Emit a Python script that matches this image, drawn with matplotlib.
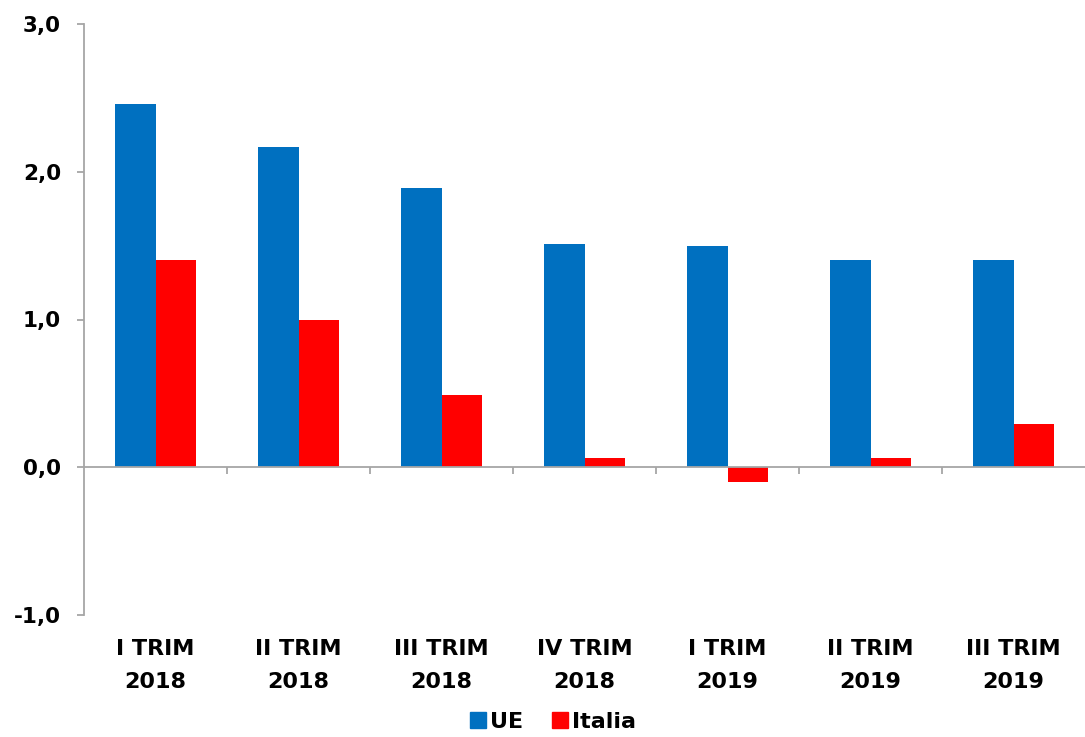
import matplotlib
matplotlib.use("Agg")
import matplotlib.pyplot as plt
import numpy as np
from matplotlib.patches import Patch

categories = ["I TRIM\n2018", "II TRIM\n2018", "III TRIM\n2018", "IV TRIM\n2018",
              "I TRIM\n2019", "II TRIM\n2019", "III TRIM\n2019"]
ue = [2.46, 2.17, 1.89, 1.51, 1.50, 1.40, 1.40]
italia = [1.40, 1.00, 0.49, 0.06, -0.10, 0.06, 0.29]
yticks = [-1.0, 0.0, 1.0, 2.0, 3.0]
ytick_labels = ["-1,0", "0,0", "1,0", "2,0", "3,0"]

plt.rcParams['font.family'] = ['DejaVu Sans']
fig = plt.figure(figsize=(10.85, 7.37), dpi=100)
ax = fig.add_axes([84/1085, 1-615/737, 1-84/1085, (615-24)/737])

x = np.arange(len(categories))
w = 0.285
ax.bar(x - w/2, ue, w, color="#0070C0", label="UE", zorder=2)
ax.bar(x + w/2, italia, w, color="#FF0000", label="Italia", zorder=2)

ax.set_xlim(-0.5, len(categories) - 0.5)
ax.set_ylim(-1.0, 3.0)
ax.set_yticks(yticks)
ax.set_yticklabels(ytick_labels, fontsize=15.5, fontweight='bold')

gray = "#A6A6A6"
for s in ['top', 'right']:
    ax.spines[s].set_visible(False)
ax.spines['left'].set_color(gray)
ax.spines['left'].set_linewidth(1.3)
ax.spines['bottom'].set_position(('data', 0))
ax.spines['bottom'].set_color(gray)
ax.spines['bottom'].set_linewidth(1.3)
ax.spines['bottom'].set_zorder(3)
ax.tick_params(axis='y', direction='out', length=5, color=gray, width=1.3, pad=11.5)
ax.set_xticks(np.arange(0.5, len(categories) - 0.5, 1.0))
ax.set_xticklabels([])
ax.tick_params(axis='x', direction='out', length=5, color=gray, width=1.3)

trans = ax.get_xaxis_transform()
for xi, lab in zip(x, categories):
    ax.text(xi, -0.04, lab, transform=trans, ha='center', va='top',
            fontsize=16, fontweight='bold', linespacing=1.85)

handles = [Patch(color="#0070C0", label="UE"), Patch(color="#FF0000", label="Italia")]
fig.legend(handles=handles, loc='center', bbox_to_anchor=(553/1085, 1-722/737),
           ncol=2, frameon=False, prop={'size': 16, 'weight': 'bold'},
           handlelength=0.7, handleheight=0.7, handletextpad=0.2, columnspacing=1.3)

fig.savefig("out.png", dpi=100)
